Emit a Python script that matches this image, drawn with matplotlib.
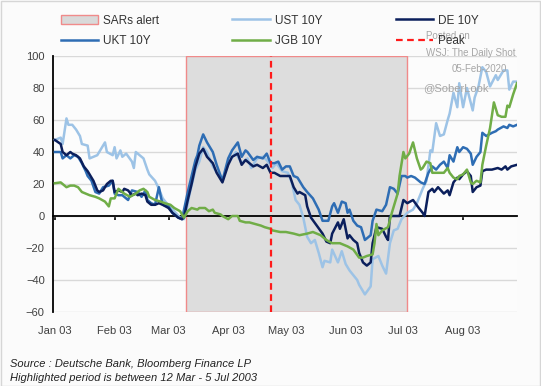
import matplotlib
matplotlib.use("Agg")
import matplotlib.pyplot as plt
from matplotlib.patches import Patch, Rectangle
from matplotlib.lines import Line2D

plt.rcParams['font.family'] = ['Liberation Sans', 'DejaVu Sans']

# ---- data (x = day of year 2003, y = change in bp) ----
ust_day = [3, 6, 7, 9, 10, 12, 14, 16, 17, 20, 21, 25, 26, 29, 30, 33, 34, 35, 37, 38, 40, 43, 44, 45, 47, 49, 51, 52,
           55, 57, 59, 61, 63, 65, 68, 70, 71, 73, 76, 78, 80, 82, 85, 90, 93, 97, 98, 100, 103, 105, 108, 111, 113,
           116, 118, 121, 124, 126, 128, 130, 132, 134, 136, 138, 140, 142, 143, 146, 147, 150, 152, 154, 156, 160,
           161, 164, 167, 168, 171, 173, 175, 177, 179, 181, 183, 186, 189, 191, 194, 196, 198, 199, 201, 203, 205,
           207, 208, 210, 212, 213, 215, 217, 220, 221, 223, 225, 227, 229, 232, 233, 236, 238, 239, 241, 243]
ust_val = [47.5, 49, 45, 61, 57, 57, 54, 50, 45, 44, 36, 38, 40, 46, 40, 38, 43, 36, 41, 37, 39, 34, 30, 40, 38, 36, 29, 26,
           22, 17, 11, 8, 6, 3, -1, -2, 2, 14, 29, 34, 43, 40, 31, 22, 33, 40, 37, 33, 36, 30, 36, 37, 35,
           30, 33, 28, 27, 21, 10, 7, -1, -13, -17, -15, -23, -32, -28, -29, -21, -29, -22, -30, -34, -40,
           -43, -49, -44, -27, -25, -31, -36, -17, -9, -8, -2, 2, 4, 8, 17, 22, 41, 40, 58, 50, 51,
           60, 64, 77, 68, 83, 68, 80, 66, 74, 81, 93, 90, 81, 88, 85, 91, 91, 79, 84, 84]

de_day = [3, 6, 7, 9, 11, 12, 14, 16, 18, 20, 21, 23, 25, 26, 28, 30, 32, 33, 34, 36, 38, 39, 41, 43, 45, 46, 48, 50,
          51, 53, 55, 57, 59, 62, 64, 67, 69, 70, 72, 74, 76, 77, 78, 80, 82, 85, 87, 90, 93, 95, 98, 100, 102, 103,
          106, 108, 111, 113, 115, 117, 120, 123, 125, 127, 129, 130, 133, 134, 136, 139, 142, 144, 146, 147, 150,
          151, 153, 155, 156, 158, 160, 161, 163, 165, 167, 168, 170, 173, 175, 176, 177, 182, 184, 186, 189, 192,
          194, 195, 197, 199, 200, 202, 205, 207, 208, 210, 212, 213, 215, 217, 219, 220, 222, 224, 225, 227, 230,
          233, 235, 237, 238, 240, 243]
de_val = [47.5, 45, 40, 38, 40, 39, 38, 36, 31, 28, 26, 22, 16, 15, 16, 20, 22, 22, 15, 16, 15, 17, 16, 13, 14, 13, 14, 13,
          9, 7, 7, 8, 7, 5, 2, -1, -2, -1, 10, 20, 31, 35, 39, 42, 37, 33, 27, 21, 32, 37, 39, 32, 35, 34,
          31, 32, 30, 32, 27, 27, 25, 25, 25, 18, 14, 15, 13, 6, -1, -6, -11, -16, -17, -11, -4,
          -8, -2, -14, -12, -15, -17, -23, -29, -31, -29, -17, -7, -8, -13, -15, 0, 0, 10, 8, 10, 5,
          2, 0, 15, 17, 15, 18, 14, 16, 13, 21, 24, 23, 26, 28, 25, 15, 18, 19, 28, 29, 29,
          30, 29, 31, 29, 31, 32]

ukt_day = [3, 6, 7, 9, 11, 13, 15, 17, 19, 20, 22, 24, 26, 28, 31, 33, 34, 36, 38, 39, 41, 43, 46, 48, 50, 51, 53, 55,
           57, 58, 59, 62, 64, 67, 69, 72, 74, 76, 77, 78, 80, 82, 85, 87, 90, 93, 95, 98, 100, 102, 103, 106, 108,
           111, 113, 115, 117, 119, 121, 123, 125, 127, 129, 132, 134, 137, 140, 142, 145, 147, 148, 150, 152, 154,
           155, 156, 158, 160, 162, 164, 167, 168, 170, 173, 175, 177, 179, 181, 183, 185, 186, 188, 190, 193, 195,
           197, 199, 201, 203, 205, 207, 208, 210, 212, 213, 215, 217, 219, 220, 222, 224, 225, 227, 230, 232, 233,
           236, 238, 239, 241, 243]
ukt_val = [40, 40, 36, 38, 36, 38, 37, 33, 28, 25, 22, 15, 14, 18, 19, 22, 14, 13, 13, 12, 10, 16, 15, 12, 16, 10, 8, 7,
           18, 12, 7, 6, 2, -1, -2, 15, 25, 35, 38, 44, 51, 46, 40, 32, 22, 36, 41, 46, 37, 41, 40, 35, 37,
           36, 39, 33, 33, 34, 29, 31, 31, 25, 24, 18, 15, 11, 4, -3, -3, 6, 8, 2, 9, 8,
           2, 4, -3, -6, -7, -15, -12, -3, 4, 3, 7, 18, 17, 14, 25, 25, 24, 25, 24, 21, 20,
           27, 31, 29, 32, 34, 30, 38, 34, 43, 40, 43, 42, 39, 32, 37, 40, 52, 50, 52, 53, 54,
           56, 55, 57, 56, 57]

jgb_day = [3, 6, 7, 9, 11, 13, 15, 17, 19, 21, 24, 26, 29, 31, 32, 34, 36, 38, 39, 42, 45, 47, 49, 51, 52, 55, 58, 60,
           63, 65, 68, 70, 72, 74, 77, 78, 81, 83, 85, 86, 89, 90, 93, 95, 98, 99, 102, 104, 107, 110, 112, 115, 116,
           120, 123, 127, 130, 134, 137, 141, 144, 147, 151, 155, 158, 161, 163, 165, 168, 169, 170, 171, 173, 176,
           178, 181, 182, 184, 185, 187, 189, 191, 193, 194, 196, 198, 199, 202, 205, 207, 208, 210, 212, 213, 215,
           217, 219, 220, 222, 224, 225, 227, 229, 231, 233, 235, 237, 238, 239, 241, 243]
jgb_val = [20.5, 21, 20, 18, 19, 19, 18, 15, 14, 13, 12, 11, 9, 6, 11, 11, 17, 15, 14, 12, 14, 16, 17, 15, 12, 10, 9, 8,
           7, 5, 3, -1, 3, 5, 4, 5, 5, 3, 4, 2, 1, 0, -2, 0, 0, -3, -4, -4, -5, -6, -7, -8, -9,
           -10, -10, -11, -12, -11, -10, -12, -15, -17, -17, -19, -21, -26, -26, -25, -24, -17, -5, -12, -9, -7,
           2, 14, 25, 40, 36, 39, 46, 36, 29, 30, 34, 33, 27, 27, 27, 30, 27, 24, 23, 25, 26,
           29, 21, 20, 22, 21, 32, 44, 55, 71, 63, 62, 62, 69, 68, 76, 83]

sars_start, sars_end = 71, 186      # 12 Mar - 5 Jul 2003
peak_day = 115                       # 25 Apr 2003
month_days = [3, 34, 62, 93, 123, 154, 184, 215]
month_labels = ['Jan 03', 'Feb 03', 'Mar 03', 'Apr 03', 'May 03', 'Jun 03', 'Jul 03', 'Aug 03']
y_ticks = [-60, -40, -20, 0, 20, 40, 60, 80, 100]

# ---- figure ----
W, H = 541, 386
fig = plt.figure(figsize=(W / 100, H / 100), dpi=100, facecolor='#fbfbfb')
fig.patches.append(Rectangle((0.001, 0.001), 0.997, 0.996, transform=fig.transFigure,
                             fill=False, edgecolor='#d6d6d6', lw=1))
ax = fig.add_axes([53 / W, 1 - 312 / H, (517 - 53) / W, (312 - 56) / H])
ax.set_facecolor('#fcfcfc')

ax.set_xlim(2, 243)
ax.set_ylim(-60, 100)
ax.set_yticks(y_ticks)
ax.yaxis.grid(True, color='#d9d9d9', lw=1)
ax.set_axisbelow(True)

ax.axvspan(sars_start, sars_end, facecolor='#dddddd', edgecolor='#f08a8a', lw=1, zorder=1)

c_ust, c_de, c_ukt, c_jgb = '#9dc3e6', '#0b1f5c', '#2e6db4', '#70ad47'
lw = 1.8
ax.plot(ust_day, ust_val, color=c_ust, lw=lw, zorder=3)
ax.plot(ukt_day, ukt_val, color=c_ukt, lw=lw, zorder=4)
ax.plot(de_day, de_val, color=c_de, lw=lw, zorder=5)
ax.plot(jgb_day, jgb_val, color=c_jgb, lw=lw, zorder=6)
ax.axvline(peak_day, color='#ff1a1a', lw=1.6, ls=(0, (3, 2)), zorder=7)

for s in ['top', 'right']:
    ax.spines[s].set_visible(False)
ax.spines['left'].set_color('black')
ax.spines['left'].set_linewidth(1.3)
ax.spines['bottom'].set_position(('data', 0))
ax.spines['bottom'].set_color('black')
ax.spines['bottom'].set_linewidth(1.3)
ax.spines['bottom'].set_zorder(2)

ax.set_xticks(month_days)
ax.set_xticklabels(month_labels)
ax.tick_params(axis='x', length=3, width=1.2, direction='out', pad=76, labelsize=8, labelcolor='#404040')
ax.tick_params(axis='y', length=0, pad=6, labelsize=8, labelcolor='#404040')

handles = [Patch(facecolor='#d9d9d9', edgecolor='#f08a8a', lw=1),
           Line2D([], [], color=c_ust, lw=lw),
           Line2D([], [], color=c_de, lw=lw),
           Line2D([], [], color=c_ukt, lw=lw),
           Line2D([], [], color=c_jgb, lw=lw),
           Line2D([], [], color='#ff1a1a', lw=1.6, ls=(0, (3, 2)))]
labels = ['SARs alert', 'UST 10Y', 'DE 10Y', 'UKT 10Y', 'JGB 10Y', 'Peak']
# reorder for row-wise filling with ncol=3
order = [0, 3, 1, 4, 2, 5]
fig.legend([handles[i] for i in order], [labels[i] for i in order], ncol=3,
           loc='upper left', bbox_to_anchor=(50 / W, 1 - 4 / H), frameon=False,
           fontsize=8.5, handlelength=3.2, handleheight=0.9, columnspacing=6.2,
           labelspacing=0.75, handletextpad=0.4, labelcolor='#333333')

wm = '#a6a6a6'
fig.text(426 / W, 1 - 36 / H, 'Posted on', fontsize=7, color=wm, va='center', ha='left')
fig.text(426 / W, 1 - 53 / H, 'WSJ: The Daily Shot', fontsize=7, color=wm, va='center', ha='left')
fig.text(507 / W, 1 - 69 / H, '05-Feb-2020', fontsize=7, color=wm, va='center', ha='right')
fig.text(423 / W, 1 - 88 / H, '@SoberLook', fontsize=8, color=wm, va='center', ha='left')

fig.text(10 / W, 1 - 364 / H, 'Source : Deutsche Bank, Bloomberg Finance LP', fontsize=8,
         style='italic', color='#222222', va='center')
fig.text(10 / W, 1 - 378 / H, 'Highlighted period is between 12 Mar - 5 Jul 2003', fontsize=8,
         style='italic', color='#222222', va='center')

fig.savefig('out.png', dpi=100, facecolor=fig.get_facecolor())
